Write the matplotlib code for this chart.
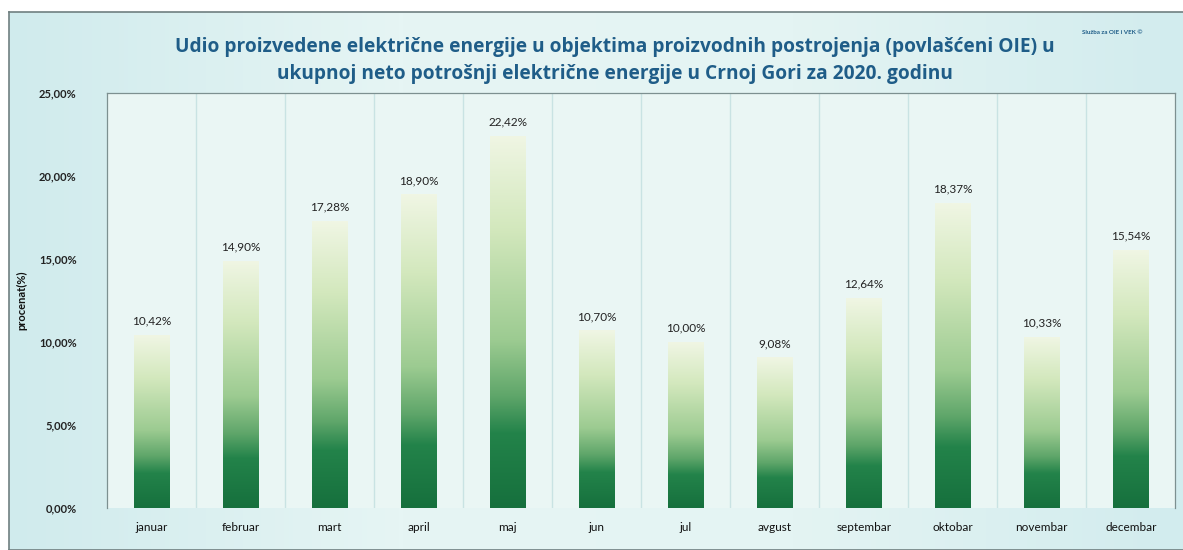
import numpy as np
import matplotlib.pyplot as plt
from matplotlib.colors import LinearSegmentedColormap

# Podaci
mjeseci = ["januar", "februar", "mart", "april", "maj", "jun", "jul",
           "avgust", "septembar", "oktobar", "novembar", "decembar"]
udio = [10.42, 14.90, 17.28, 18.90, 22.42, 10.70, 10.00,
        9.08, 12.64, 18.37, 10.33, 15.54]
y_ticks = [0, 5, 10, 15, 20, 25]

naslov = ("Udio proizvedene električne energije u objektima proizvodnih postrojenja (povlašćeni OIE) u\n"
          "ukupnoj neto potrošnji električne energije u Crnoj Gori za 2020. godinu")

plt.rcParams['font.family'] = ['Lato', 'DejaVu Sans']

fig = plt.figure(figsize=(11.83, 5.5), dpi=100)
fig.patch.set_facecolor('white')

# pozadina grafikona (okvir)
bg = np.linspace(0, 1, 256).reshape(1, -1)
bg_cmap = LinearSegmentedColormap.from_list('bg', ['#d0ebed', '#e6f5f4', '#e4f4f3', '#d2ecee'])
ax_bg = fig.add_axes([0.008, 0.0, 0.992, 0.978])
ax_bg.imshow(bg, cmap=bg_cmap, aspect='auto', extent=(0, 1, 0, 1))
ax_bg.set_xlim(0, 1)
ax_bg.set_ylim(0, 1)
ax_bg.set_xticks([])
ax_bg.set_yticks([])
for s in ax_bg.spines.values():
    s.set_color('#6f7f80')
    s.set_linewidth(1.2)
ax_bg.spines['right'].set_visible(False)

ax = fig.add_axes([0.0905, 0.0764, 0.903, 0.7545])
ax.set_facecolor('#eaf6f4')

x = np.arange(len(mjeseci))
bars = ax.bar(x, udio, width=0.4, color='none', edgecolor='none', zorder=3)

cmap = LinearSegmentedColormap.from_list(
    'zelena',
    [(0.0, '#16703d'), (0.2, '#23834a'), (0.3, '#5fa66a'),
     (0.45, '#9ccb91'), (0.75, '#d3e8bd'), (1.0, '#f0f6e4')])
grad = np.linspace(0, 1, 256).reshape(-1, 1)
for b in bars:
    x0 = b.get_x()
    h = b.get_height()
    im = ax.imshow(grad, cmap=cmap, origin='lower', aspect='auto',
                   extent=(x0, x0 + b.get_width(), 0, h), zorder=3)
    im.set_clip_path(b)

for xi, v in zip(x, udio):
    ax.text(xi, v + 0.5, f"{v:.2f}%".replace('.', ','), ha='center', va='bottom',
            fontsize=8.5, color='#222222')

ax.set_xlim(-0.5, len(mjeseci) - 0.5)
ax.set_ylim(0, 25)
ax.set_yticks(y_ticks)
ax.set_yticklabels([f"{t:.2f}%".replace('.', ',') for t in y_ticks],
                   fontsize=8, fontweight='bold', color='#222222')
ax.set_xticks(x)
ax.set_xticklabels(mjeseci, fontsize=8.5, color='#111111')
ax.tick_params(length=0)
ax.tick_params(axis='x', pad=10)
ax.tick_params(axis='y', pad=22)

# vertikalne linije izmedju kategorija
for b in np.arange(0.5, len(mjeseci) - 0.5, 1):
    ax.axvline(b, color='#c9e3e3', linewidth=1, zorder=1)

for side in ['left', 'top', 'right']:
    ax.spines[side].set_color('#7d9090')
    ax.spines[side].set_linewidth(0.9)
ax.spines['bottom'].set_visible(False)

ax.set_ylabel("procenat(%)", fontsize=8, fontweight='bold', color='#111111', labelpad=8)

fig.text(0.52, 0.932, naslov, ha='center', va='top', fontsize=13.8,
         fontweight='bold', color='#1f5d88', linespacing=1.45,
         family=['Open Sans', 'DejaVu Sans'])
fig.text(0.915, 0.94, "Služba za OIE i VEK ©", ha='left', va='center',
         fontsize=4.5, fontweight='bold', color='#1f5d88')

fig.savefig('out.png', dpi=100)
